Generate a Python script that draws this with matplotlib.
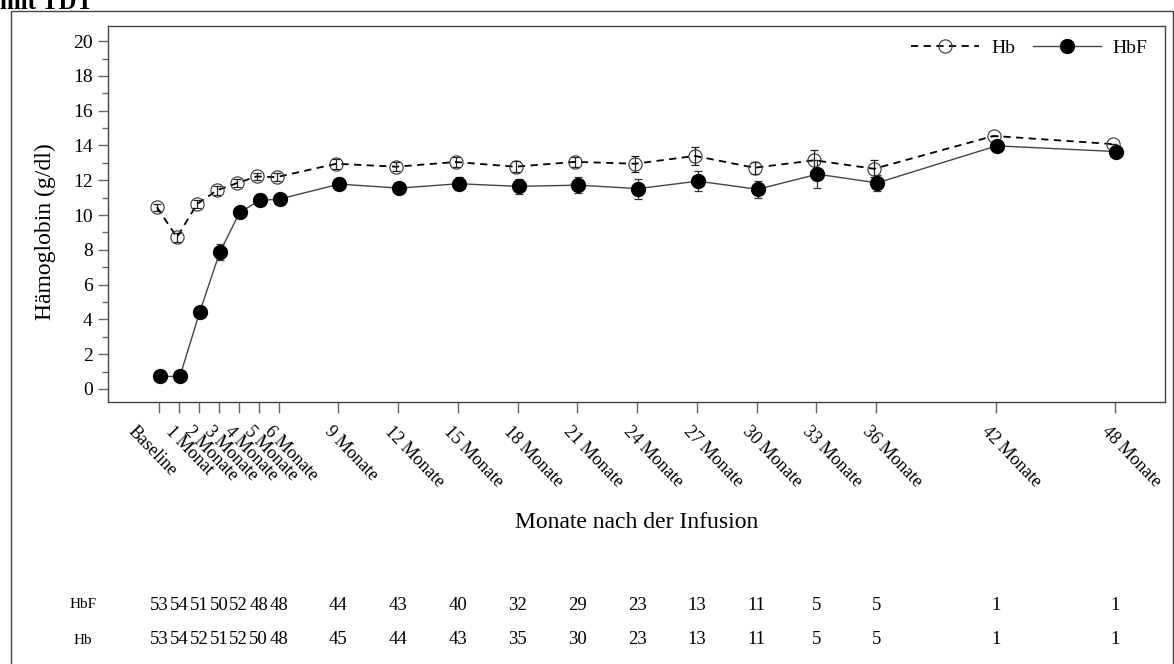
import matplotlib
matplotlib.use("Agg")
import matplotlib.pyplot as plt
import matplotlib.transforms as mtransforms
from matplotlib.patches import Rectangle
from matplotlib.ticker import MultipleLocator

plt.rcParams['font.family'] = ['Liberation Serif', 'DejaVu Serif']

# data
months = [0, 1, 2, 3, 4, 5, 6, 9, 12, 15, 18, 21, 24, 27, 30, 33, 36, 42, 48]
labels = ["Baseline", "1 Monat", "2 Monate", "3 Monate", "4 Monate", "5 Monate",
          "6 Monate", "9 Monate", "12 Monate", "15 Monate", "18 Monate", "21 Monate",
          "24 Monate", "27 Monate", "30 Monate", "33 Monate", "36 Monate",
          "42 Monate", "48 Monate"]
hb_mean = [10.45, 8.72, 10.62, 11.42, 11.83, 12.22, 12.18, 12.95, 12.78, 13.05, 12.78,
           13.06, 12.95, 13.4, 12.72, 13.15, 12.66, 14.55, 14.08]
hb_err = [0.2, 0.25, 0.22, 0.25, 0.22, 0.22, 0.25, 0.3, 0.25, 0.27, 0.3, 0.3, 0.45,
          0.5, 0.35, 0.6, 0.5, 0, 0]
hbf_mean = [0.72, 0.72, 4.45, 7.86, 10.15, 10.84, 10.92, 11.78, 11.55, 11.8, 11.65,
            11.72, 11.52, 11.95, 11.48, 12.35, 11.85, 13.98, 13.65]
hbf_err = [0.1, 0.1, 0.2, 0.45, 0.25, 0.3, 0.3, 0.35, 0.3, 0.38, 0.42, 0.45, 0.57,
           0.57, 0.48, 0.8, 0.46, 0, 0]
n_hbf = [53, 54, 51, 50, 52, 48, 48, 44, 43, 40, 32, 29, 23, 13, 11, 5, 5, 1, 1]
n_hb = [53, 54, 52, 51, 52, 50, 48, 45, 44, 43, 35, 30, 23, 13, 11, 5, 5, 1, 1]

W, H = 1174, 664
fig = plt.figure(figsize=(W / 100, H / 100), dpi=100)
ax = fig.add_axes([108 / W, 1 - 402 / H, (1165 - 108) / W, (402 - 25.5) / H])

edge = '#444444'

# small dodge between the two series
tr_hb = mtransforms.offset_copy(ax.transData, fig=fig, x=-2, y=0, units='dots')
tr_hbf = mtransforms.offset_copy(ax.transData, fig=fig, x=1, y=0, units='dots')

ax.errorbar(months, hb_mean, yerr=hb_err, fmt='none', ecolor='#222222',
            elinewidth=0.9, capsize=3, capthick=0.9, transform=tr_hb, zorder=3)
hb_line, = ax.plot(months, hb_mean, color='black', linestyle=(0, (4, 3)), lw=1.3,
                   marker='o', ms=9.5, mfc='none', mec='#333333', mew=0.8,
                   transform=tr_hb, zorder=4, label='Hb')

ax.errorbar(months, hbf_mean, yerr=hbf_err, fmt='none', ecolor='#333333',
            elinewidth=0.9, capsize=3, capthick=0.9, transform=tr_hbf, zorder=2)
hbf_line, = ax.plot(months, hbf_mean, color='#444444', linestyle='-', lw=1,
                    marker='o', ms=10, mfc='black', mec='black',
                    transform=tr_hbf, zorder=5, label='HbF')

ax.set_xlim(-2.56, 50.5)
ax.set_ylim(-0.75, 20.9)
ax.yaxis.set_major_locator(MultipleLocator(2))
ax.yaxis.set_minor_locator(MultipleLocator(1))
ax.tick_params(axis='y', which='major', length=7, width=1, color='#666666',
               labelsize=14, pad=4)
ax.tick_params(axis='y', which='minor', length=4, width=1, color='#666666')
ax.set_xticks(months)
ax.set_xticklabels(labels, rotation=-46, ha='left', va='top', rotation_mode='anchor',
                   fontsize=13)
ax.tick_params(axis='x', length=8, width=1, color='#666666', pad=2)
for i, lab in enumerate(ax.get_xticklabels()):
    dx = -22 if i == 0 else -5
    lab.set_transform(lab.get_transform() +
                      mtransforms.ScaledTranslation(dx / 100, -7 / 100, fig.dpi_scale_trans))
for sp in ax.spines.values():
    sp.set_color(edge)
    sp.set_linewidth(1)

ax.set_ylabel('Hämoglobin (g/dl)', fontsize=17)
ax.yaxis.set_label_coords(-0.049, 0.452)

# legend in one row, no frame
ax.legend(handles=[hb_line, hbf_line], loc='upper right', ncol=2, frameon=False,
          fontsize=14, handlelength=3.5, handletextpad=0.6, columnspacing=0.9,
          numpoints=1, borderaxespad=0.3, bbox_to_anchor=(0.996, 1.0))

fig.text((108 + 1165) / 2 / W, 1 - 522 / H, 'Monate nach der Infusion',
         ha='center', va='center', fontsize=17)

# number-at-risk table
tbl = mtransforms.blended_transform_factory(ax.transData, fig.transFigure)
for name, counts, ypix in [('HbF', n_hbf, 605), ('Hb', n_hb, 640)]:
    fig.text(83 / W, 1 - ypix / H, name, ha='center', va='center', fontsize=11)
    for m, c in zip(months, counts):
        ax.text(m, 1 - ypix / H, str(c), transform=tbl, ha='center', va='center',
                fontsize=13.5, clip_on=False)

# outer frame and clipped title
fig.patches.append(Rectangle((11 / W, -0.05), (1173 - 11) / W, 1.05 - 11 / H,
                             transform=fig.transFigure, fill=False,
                             edgecolor=edge, lw=1))
fig.text(0.0, 1 - 9 / H, 'mit TDT', ha='left', va='baseline', fontsize=18,
         fontweight='bold')

fig.savefig('out.png', dpi=100)
